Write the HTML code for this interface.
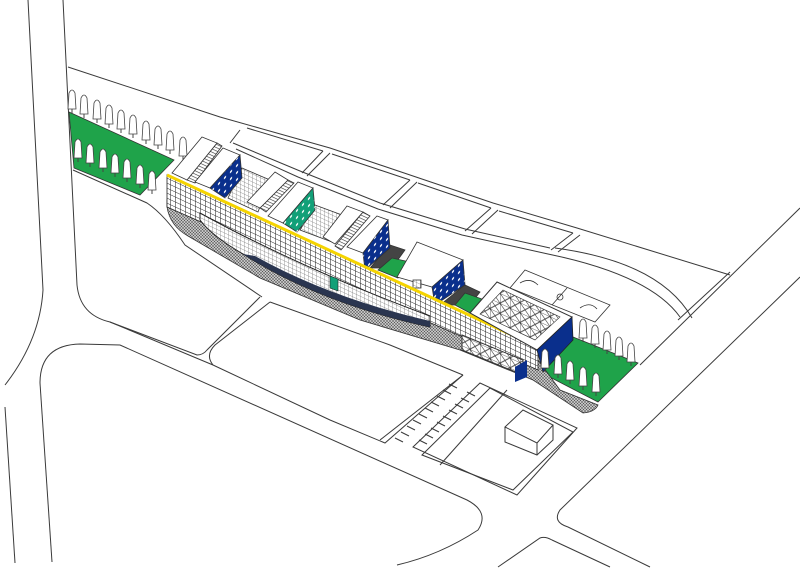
<!DOCTYPE html>
<html><head><meta charset="utf-8"><style>html,body{margin:0;padding:0;background:#fff}svg{display:block}</style></head>
<body>
<svg width="800" height="580" viewBox="0 0 800 580" xmlns="http://www.w3.org/2000/svg">
<defs>
<pattern id="grid" width="5" height="5" patternUnits="userSpaceOnUse" patternTransform="skewY(25)">
<rect width="5" height="5" fill="#fff"/><path d="M0 0H5M0 0V5" stroke="#222" stroke-width="1"/></pattern>
<pattern id="lgrid" width="4" height="4" patternUnits="userSpaceOnUse" patternTransform="skewY(25)">
<rect width="4" height="4" fill="#fff"/><path d="M0 0H4M0 0V4" stroke="#777" stroke-width="0.7"/></pattern>
<pattern id="hatch" width="3" height="3" patternUnits="userSpaceOnUse">
<rect width="3" height="3" fill="#c4c4c4"/><path d="M0 0L3 3M3 0L0 3" stroke="#555" stroke-width="0.5"/></pattern>
<pattern id="tri" width="10" height="10" patternUnits="userSpaceOnUse" patternTransform="skewY(25)">
<rect width="10" height="10" fill="#fff"/><path d="M0 0H10M0 0V10M0 0L10 10M10 0L0 10" stroke="#333" stroke-width="0.7"/></pattern>
<pattern id="stair" width="3" height="3" patternUnits="userSpaceOnUse" patternTransform="rotate(25)">
<rect width="3" height="3" fill="#fff"/><path d="M0 0H3" stroke="#333" stroke-width="1.2"/></pattern>
<pattern id="dots" width="6" height="7" patternUnits="userSpaceOnUse" patternTransform="skewY(-45)">
<circle cx="3" cy="3.5" r="1.1" fill="#fff"/></pattern>
<g id="tree"><path d="M-4 16 L-3 0 Q0 -6 3 0 L4 16 Z" fill="#fff" stroke="#444" stroke-width="0.8"/><path d="M0 16V20" stroke="#444"/></g>
</defs>
<g fill="none" stroke="#3a3a3a" stroke-width="1">
<path d="M28 0 L43 290 Q40 340 5 385"/>
<path d="M5 407 L15 563"/>
<path d="M63 0 L77 285 Q80 315 110 322 L197 355 Q203 355 207 350 L260 297"/>
<path d="M40 383 Q40 345 80 344 L120 345 L467 500 Q490 512 478 530 Q440 555 397 565"/>
<path d="M52 562 L40 383"/>
<!-- top field -->
<path d="M68 67 L220 117 L330 148 L493 203 L577 228 L730 275"/>
<path d="M247 128 L323 151 M332 154 L410 180 M418 183 L491 208 M499 211 L573 233"/>
<path d="M233 143 L300 171 L380 203 L465 229 L550 248"/>
<path d="M236 149 L298 177 L378 209 L462 235 L548 254 Q650 275 680 317"/>
<path d="M555 248 Q660 262 692 318"/>
<path d="M323 151 L302 173 M330 153 L307 176"/>
<path d="M410 180 L383 205 M417 182 L390 208"/>
<path d="M491 208 L465 231 M498 210 L472 234"/>
<path d="M573 233 L551 250 M580 235 L558 252"/>
<path d="M240 130 L230 143"/>
<!-- roads near building -->
<path d="M73 170 L147 203 Q165 215 185 245 L262 297"/>
<path d="M270 302 L390 345 L463 375"/>
<path d="M213 365 Q205 355 215 345 L270 302"/>
<path d="M110 322 L213 365 L330 420 L385 443 L463 375"/>
<path d="M380 440 L463 375"/>
<path d="M413 447 L480 383 L577 428 L517 495 Z"/>
<path d="M422 455 L490 388 L573 432 L513 490 Z"/>
<path d="M440 465 L507 390"/>
<path d="M505 427 L523 410 L553 425 L537 443 Z M505 427 L505 442 L537 455 L553 440 L553 425 M537 443 L537 455" fill="#fff"/>
<path d="M800 208 L640 365"/>
<path d="M800 277 L560 510 Q552 522 568 527 L650 567"/>
<path d="M498 567 L540 538 Q545 536 552 540 L610 567"/>
<path d="M730 272 L678 320"/>
</g>
<g stroke="#3a3a3a" stroke-width="1">
<path d="M395 438 l8 4 M401 432 l8 4 M407 426 l8 4 M413 420 l8 4 M419 414 l8 4 M425 408 l8 4 M431 402 l8 4 M437 396 l8 4 M443 390 l8 4 M449 384 l8 4"/>
<path d="M419 440 l8 4 M425 434 l8 4 M431 428 l8 4 M437 422 l8 4 M443 416 l8 4 M449 410 l8 4 M455 404 l8 4 M461 398 l8 4 M467 392 l8 4"/>
</g>
<polygon points="69,112 174,160 140,195 74,168" fill="#1fa34a" stroke="#333" stroke-width="0.8"/>
<g>
<use href="#tree" x="72" y="93"/><use href="#tree" x="84" y="98"/><use href="#tree" x="97" y="103"/><use href="#tree" x="109" y="108"/><use href="#tree" x="121" y="113"/><use href="#tree" x="133" y="118"/><use href="#tree" x="146" y="124"/><use href="#tree" x="158" y="129"/><use href="#tree" x="170" y="134"/><use href="#tree" x="183" y="140"/>
<use href="#tree" x="78" y="142"/><use href="#tree" x="90" y="147"/><use href="#tree" x="103" y="152"/><use href="#tree" x="115" y="157"/><use href="#tree" x="127" y="162"/><use href="#tree" x="140" y="168"/><use href="#tree" x="152" y="174"/>
</g>
<polygon points="573,337 638,363 598,402 540,372" fill="#1fa34a" stroke="#333" stroke-width="0.8"/>
<!-- base hatch -->
<path d="M167 200 L167 207 Q170 226 188 236 L260 278 L360 320 L460 350 L533 380 L583 413 Q595 412 598 405 L560 390 L538 360 Z" fill="url(#hatch)" stroke="#333" stroke-width="0.8"/>
<g fill="none" stroke="#333" stroke-width="0.8">
<path d="M525 270 L610 305 L595 322 L510 288 Z"/>
<path d="M567 288 L552 305"/><circle cx="560" cy="297" r="3"/>
<path d="M520 283 Q530 277 538 285"/><path d="M580 308 Q590 301 597 309"/>
</g>
<g stroke="#333" stroke-width="0.8">
<polygon points="217,143 222,146 195,183 187,180" fill="url(#stair)"/>
<polygon points="202,137 217,143 187,180 172,173" fill="#fff"/>
<polygon points="242,168 270,180 258,212 228,198" fill="url(#lgrid)"/>
<polygon points="223,148 240,155 210,188 195,182" fill="#fff"/>
<polygon points="240,155 242,178 225,198 210,188" fill="#0a2f8c"/>
<polygon points="240,155 242,178 225,198 210,188" fill="url(#dots)" stroke="none"/>
<polygon points="288,180 294,183 266,212 260,208" fill="url(#stair)"/>
<polygon points="275,172 288,180 260,208 247,202" fill="#fff"/>
<polygon points="315,205 342,215 332,242 300,230" fill="url(#lgrid)"/>
<polygon points="298,182 313,188 283,223 268,216" fill="#fff"/>
<polygon points="313,188 315,210 297,232 283,223" fill="#12a078"/>
<polygon points="313,188 315,210 297,232 283,223" fill="url(#dots)" stroke="none"/>
<polygon points="363,212 370,216 341,250 335,246" fill="url(#stair)"/>
<polygon points="347,206 363,212 335,244 323,237" fill="#fff"/>
<polygon points="390,245 405,250 392,268 370,268" fill="#444"/>
<polygon points="377,216 388,220 363,253 347,247" fill="#fff"/>
<polygon points="388,220 390,248 365,270 363,253" fill="#0a2f8c"/>
<polygon points="388,220 390,248 365,270 363,253" fill="url(#dots)" stroke="none"/>
<polygon points="378,270 392,258 410,262 398,278" fill="#1fa34a"/>
<polygon points="465,285 480,292 470,305 440,305" fill="#444"/>
<polygon points="417,242 463,260 432,287 397,277" fill="#fff"/>
<polygon points="463,260 465,285 435,305 432,287" fill="#0a2f8c"/>
<polygon points="463,260 465,285 435,305 432,287" fill="url(#dots)" stroke="none"/>
<polygon points="455,305 465,293 482,299 470,313" fill="#1fa34a"/>
<rect x="413" y="280" width="8" height="8" fill="url(#lgrid)"/>
</g>
<!-- main facade -->
<polygon points="167,175 538,347 538,370 167,207" fill="url(#grid)" stroke="#222" stroke-width="0.8"/>
<line x1="167" y1="175" x2="538" y2="347" stroke="#f5d400" stroke-width="3"/>
<!-- curved wing -->
<path d="M200 213 Q300 268 430 316 L430 327 Q320 303 243 254 Q212 236 200 220 Z" fill="url(#lgrid)" stroke="#222"/>
<path d="M243 254 Q320 303 430 327 L430 321 Q330 298 255 256 Z" fill="#2a3550"/>
<path d="M330 276 l8 3 l0 12 l-8 -3 Z" fill="#12a078" stroke="#222" stroke-width="0.6"/>
<!-- sports hall -->
<polygon points="497,282 572,317 537,350 470,313" fill="#fff" stroke="#333"/>
<polygon points="503,290 560,317 535,340 480,314" fill="url(#tri)" stroke="#333" stroke-width="0.6"/>
<polygon points="572,317 573,340 543,372 537,350" fill="#0a2f8c" stroke="#222" stroke-width="0.8"/>
<polygon points="462,335 523,360 523,375 462,350" fill="url(#tri)" stroke="#333"/>
<polygon points="515,367 527,360 527,377 515,382" fill="#0a2f8c"/>
<g>
<use href="#tree" x="583" y="322"/><use href="#tree" x="595" y="328"/><use href="#tree" x="607" y="334"/><use href="#tree" x="619" y="340"/><use href="#tree" x="631" y="346"/>
<use href="#tree" x="545" y="352"/><use href="#tree" x="558" y="358"/><use href="#tree" x="570" y="364"/><use href="#tree" x="583" y="370"/><use href="#tree" x="596" y="376"/>
</g>
</svg>
</body></html>
